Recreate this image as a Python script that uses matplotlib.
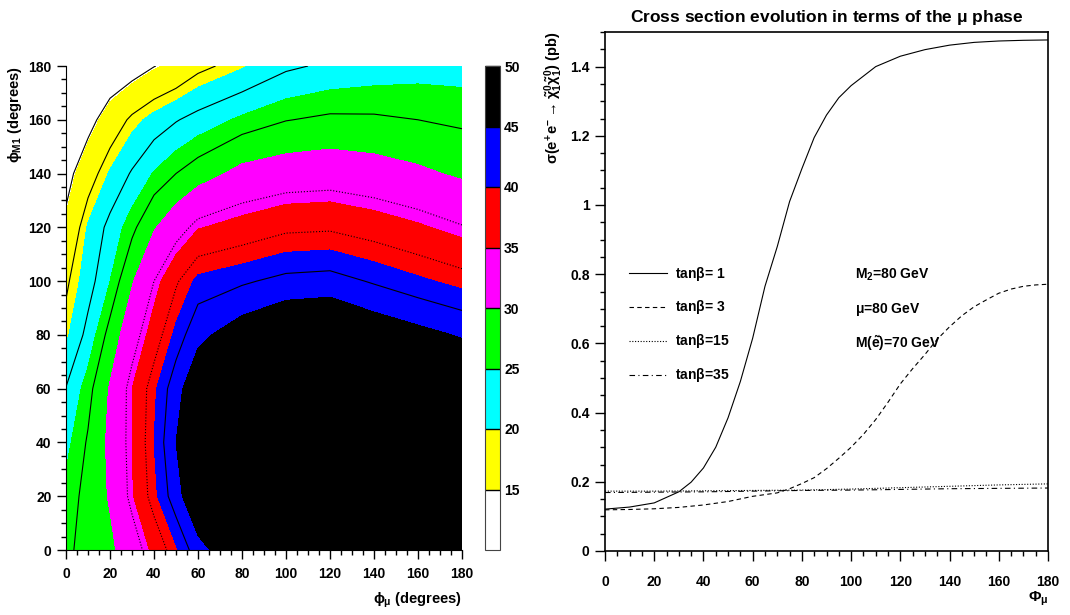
import numpy as np
import matplotlib
matplotlib.use("Agg")
import matplotlib.pyplot as plt
from matplotlib.ticker import MultipleLocator

plt.rcParams['font.family'] = ['Liberation Sans', 'DejaVu Sans']
plt.rcParams['font.weight'] = 'bold'
plt.rcParams['axes.labelweight'] = 'bold'
plt.rcParams['axes.titleweight'] = 'bold'
plt.rcParams['mathtext.fontset'] = 'custom'
plt.rcParams['mathtext.rm'] = 'Liberation Sans:bold'
plt.rcParams['mathtext.it'] = 'Liberation Sans:bold'
plt.rcParams['mathtext.bf'] = 'Liberation Sans:bold'
plt.rcParams['mathtext.fallback'] = 'stixsans'

# ---- left panel: cross section (fb) vs phases ----
phi_mu = [0, 10, 20, 30, 40, 50, 60, 80, 100, 120, 140, 160, 180]
phi_m1 = [0, 20, 40, 60, 80, 100, 120, 140, 160, 180]
sigma_map = [
    [26.5, 27.9, 29.3, 32.0, 35.8, 39.6, 43.9, 48.0, 49.5, 49.5, 49.5, 49.5, 49.5],
    [25.7, 27.9, 30.3, 34.7, 39.3, 43.8, 48.0, 49.5, 49.5, 49.5, 49.5, 49.5, 49.5],
    [24.3, 27.3, 30.7, 35.0, 40.0, 45.0, 48.5, 49.5, 49.5, 49.5, 49.5, 49.5, 49.5],
    [22.6, 26.1, 30.3, 35.0, 39.5, 43.9, 47.5, 49.5, 49.5, 49.5, 49.5, 49.5, 49.0],
    [19.5, 23.4, 28.0, 32.3, 36.4, 40.7, 44.2, 46.8, 48.6, 49.0, 47.3, 46.0, 44.7],
    [18.0, 21.3, 25.0, 29.7, 33.8, 37.6, 40.7, 41.8, 43.0, 43.3, 41.9, 40.5, 39.2],
    [15.5, 20.3, 23.3, 26.3, 29.7, 32.3, 34.8, 36.1, 37.4, 37.6, 36.6, 35.4, 34.0],
    [13.5, 17.0, 20.3, 22.8, 25.2, 27.0, 28.5, 31.0, 31.8, 32.1, 31.5, 30.6, 29.5],
    [12.0, 13.5, 16.5, 19.1, 20.9, 22.3, 23.5, 25.5, 26.9, 27.5, 27.4, 27.0, 26.5],
    [10.6, 11.0, 12.0, 13.0, 14.6, 15.8, 17.7, 19.7, 22.0, 23.0, 23.6, 24.0, 24.0],
]
band_levels = [10.55, 15, 20, 25, 30, 35, 40, 45, 50]
band_colors = ['white', '#ffff00', '#00ffff', '#00ff00', '#ff00ff', '#ff0000', '#0000ff', 'black']
line_levels = [14.7, 18.5, 22.5, 27.0, 33.8, 38.0, 42.2]
line_styles = ['solid', 'solid', 'solid', 'solid', 'dotted', 'dotted', 'solid']

# ---- right panel: sigma vs phi_mu for several tan(beta) ----
x_t1 = [0, 10, 20, 30, 35, 40, 45, 50, 55, 60, 65, 70, 75, 80, 85, 90, 95, 100,
        110, 120, 130, 140, 150, 160, 170, 180]
y_t1 = [0.121, 0.127, 0.139, 0.171, 0.199, 0.240, 0.300, 0.385, 0.490, 0.615,
        0.765, 0.880, 1.010, 1.105, 1.195, 1.260, 1.310, 1.345,
        1.400, 1.430, 1.449, 1.462, 1.470, 1.474, 1.476, 1.477]
x_t3 = [0, 10, 20, 30, 40, 50, 60, 70, 75, 80, 85, 90, 95, 100, 105, 110, 115,
        120, 125, 130, 135, 140, 145, 150, 155, 160, 165, 170, 175, 180]
y_t3 = [0.119, 0.120, 0.122, 0.126, 0.133, 0.143, 0.158, 0.168, 0.180, 0.195,
        0.212, 0.238, 0.268, 0.300, 0.337, 0.380, 0.430, 0.483, 0.527, 0.568,
        0.612, 0.648, 0.680, 0.706, 0.726, 0.745, 0.757, 0.765, 0.769, 0.771]
x_flat = [0, 20, 40, 60, 80, 100, 120, 140, 160, 180]
y_t15 = [0.173, 0.173, 0.174, 0.175, 0.176, 0.179, 0.183, 0.187, 0.191, 0.194]
y_t35 = [0.169, 0.170, 0.171, 0.173, 0.175, 0.176, 0.178, 0.180, 0.181, 0.182]

fig = plt.figure(figsize=(10.7, 6.15), dpi=100)
W, H = 1070.0, 615.0

# left map
ax1 = fig.add_axes([66 / W, 65 / H, 396 / W, 484 / H])
cs = ax1.contourf(phi_mu, phi_m1, sigma_map, levels=band_levels, colors=band_colors)
ax1.contour(phi_mu, phi_m1, sigma_map, levels=line_levels, colors='k',
            linewidths=0.8, linestyles=line_styles)
ax1.set_xlim(0, 180)
ax1.set_ylim(0, 180)
ax1.xaxis.set_major_locator(MultipleLocator(20))
ax1.xaxis.set_minor_locator(MultipleLocator(5))
ax1.yaxis.set_major_locator(MultipleLocator(20))
ax1.yaxis.set_minor_locator(MultipleLocator(5))
ax1.tick_params(which='major', direction='out', length=6.5, width=1, labelsize=10, pad=4)
ax1.tick_params(axis='x', pad=6)
ax1.tick_params(which='minor', direction='out', length=3.5, width=1)
ax1.spines['top'].set_visible(False)
ax1.spines['right'].set_visible(False)
ax1.set_xlabel(r'$\phi_{\mu}$ (degrees)', fontsize=10.5, loc='right', labelpad=7)
ax1.set_ylabel(r'$\phi_{\mathbf{M1}}$ (degrees)', fontsize=10.5, loc='top', labelpad=3)

cax = fig.add_axes([485 / W, 65 / H, 15 / W, 484 / H])
cb = fig.colorbar(cs, cax=cax, ticks=[15, 20, 25, 30, 35, 40, 45, 50])
cb.outline.set_linewidth(0.8)
cb.outline.set_edgecolor('#444444')
cax.tick_params(direction='in', length=10.5, width=1, labelsize=10, pad=3, color='k')

# right curves
ax2 = fig.add_axes([605 / W, 64 / H, 443 / W, 519 / H])
ax2.plot(x_t1, y_t1, color='k', lw=0.8, label=r'tan$\beta$= 1')
ax2.plot(x_t3, y_t3, color='k', lw=0.8, linestyle=(0, (4, 3)), label=r'tan$\beta$= 3')
ax2.plot(x_flat, y_t15, color='k', lw=0.8, linestyle=(0, (1, 1.5)), label=r'tan$\beta$=15')
ax2.plot(x_flat, y_t35, color='k', lw=0.8, linestyle=(0, (5, 3, 1, 3)), label=r'tan$\beta$=35')
ax2.set_xlim(0, 180)
ax2.set_ylim(0, 1.5)
ax2.xaxis.set_major_locator(MultipleLocator(20))
ax2.xaxis.set_minor_locator(MultipleLocator(5))
ax2.yaxis.set_major_locator(MultipleLocator(0.2))
ax2.yaxis.set_minor_locator(MultipleLocator(0.05))
ax2.yaxis.set_major_formatter(plt.FuncFormatter(lambda v, p: '%g' % round(v, 2)))
ax2.tick_params(which='major', direction='out', length=7, width=1, labelsize=10)
ax2.tick_params(which='minor', direction='out', length=3.5, width=1)
ax2.tick_params(axis='x', pad=10)
ax2.tick_params(axis='y', pad=4)
for s in ax2.spines.values():
    s.set_linewidth(1.2)
ax2.set_title(r'Cross section evolution in terms of the $\mu$ phase', fontsize=12.5, pad=7)
ax2.set_xlabel(r'$\Phi_{\mu}$', fontsize=11, loc='right', labelpad=1)
ax2.set_ylabel(r'$\sigma(e^{+}e^{-}\rightarrow\tilde{\chi}^{0}_{1}\tilde{\chi}^{0}_{1})$ (pb)',
               fontsize=10.5, loc='top', labelpad=4)
ax2.legend(loc='upper left', bbox_to_anchor=(0.055, 0.552), frameon=False, fontsize=10,
           handlelength=2.7, handletextpad=0.6, labelspacing=1.15, borderpad=0,
           borderaxespad=0)
ax2.text(101.6, 0.798, r'M$_2$=80 GeV', fontsize=10, va='center')
ax2.text(101.6, 0.697, r'$\mu$=80 GeV', fontsize=10, va='center')
ax2.text(101.6, 0.601, r'M($\tilde{e}$)=70 GeV', fontsize=10, va='center')

fig.savefig('out.png', dpi=100)
